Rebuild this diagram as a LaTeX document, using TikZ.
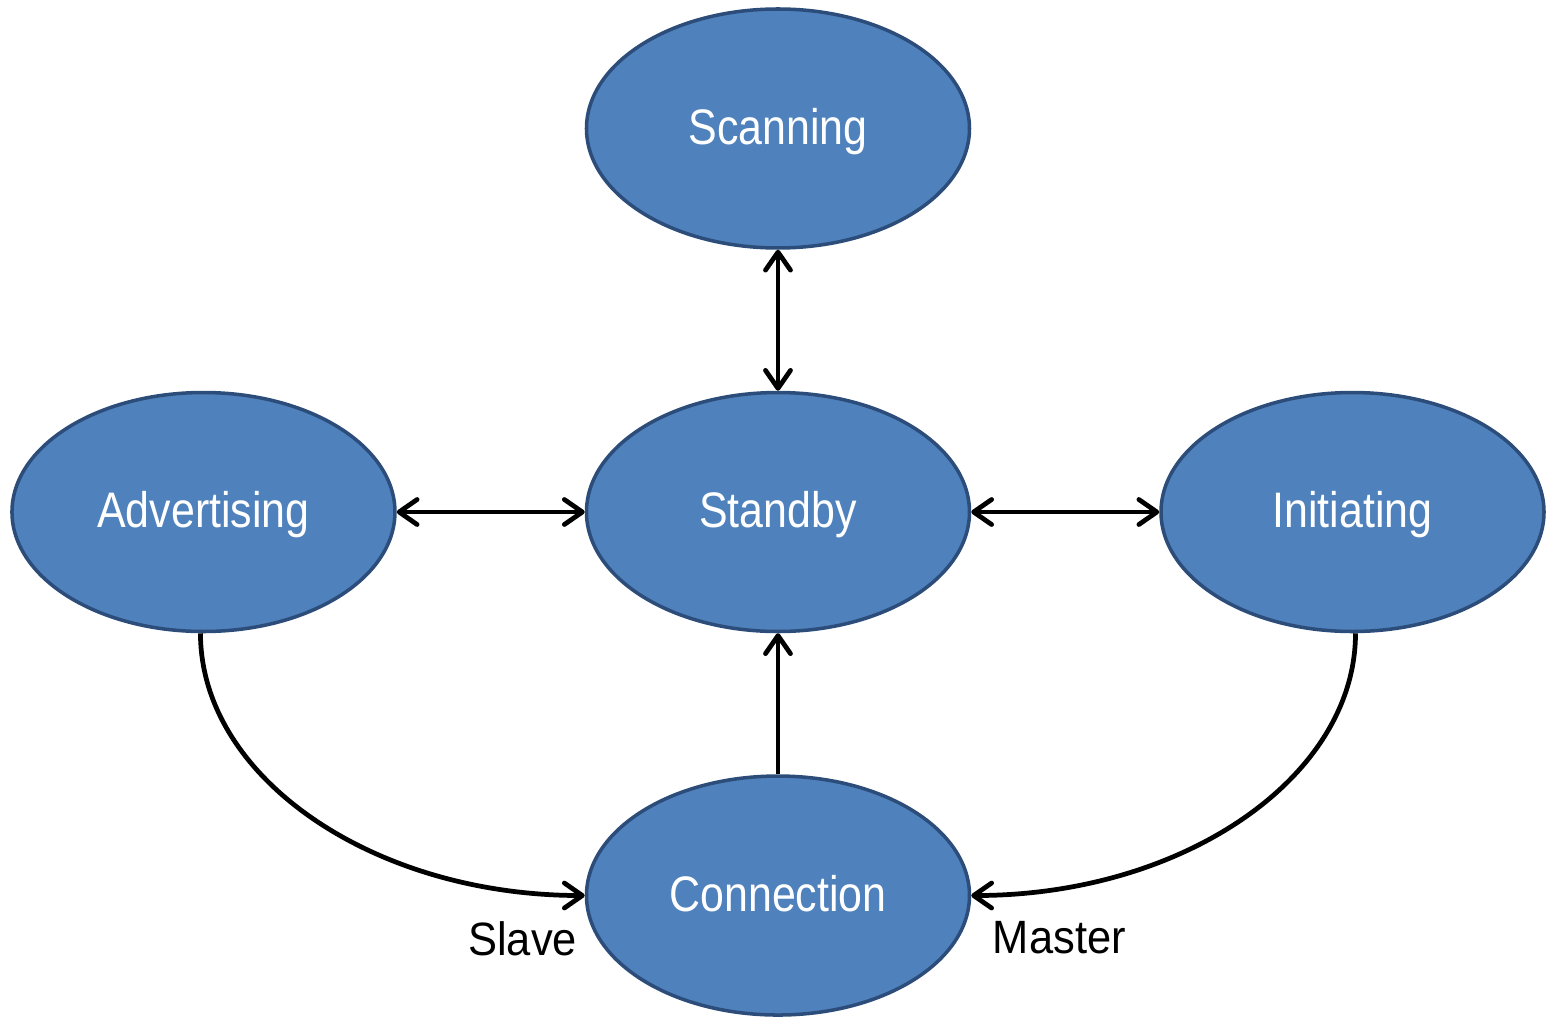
\documentclass[tikz,border=0pt]{standalone}
\usepackage{fontspec}
\setmainfont{Liberation Sans}
\newfontfamily\statefont[FakeStretch=0.86]{Liberation Sans}
\newfontfamily\rolefont[FakeStretch=0.93]{Liberation Sans}
\usetikzlibrary{shapes, arrows.meta, positioning}
\definecolor{statefill}{HTML}{4F81BD}
\definecolor{stateline}{HTML}{2C4D7A}
\tikzstyle{state} = [draw=stateline, fill=statefill, ellipse, line width=1pt, inner sep=0pt, minimum width=3.83cm, minimum height=2.39cm, text=white, text height=0.9em, text depth=0pt, font=\statefont\fontsize{14.2}{17}\selectfont]
\tikzstyle{role} = [inner sep=0pt, font=\rolefont\fontsize{13.3}{16}\selectfont]
\tikzstyle{line} = [draw, line width=1.35pt, -{Straight Barb[length=1.8mm, width=2.5mm, round]}]
\tikzstyle{both} = [draw, line width=1.35pt, {Straight Barb[length=1.8mm, width=2.5mm, round]}-{Straight Barb[length=1.8mm, width=2.5mm, round]}]

\begin{document}
\begin{tikzpicture}
	\useasboundingbox (-7.78,-5.06) rectangle (7.69,5.12);
	\node [state] (standby) {Standby};
	\node [state, above=1.41cm of standby] (scanning) {Scanning};
	\node [state, left=1.88cm of standby] (advertising) {Advertising};
	\node [state, right=1.88cm of standby] (initiating) {Initiating};
	\node [state, below=1.41cm of standby] (connection) {Connection};
	\node [role, below left=0.25cm and 0.07cm of connection.west] (slave) {Slave};
	\node [role, below right=0.25cm and 0.21cm of connection.east] (master) {Master};
	
	\path [both] (scanning) -- (standby);
	\path [both] (advertising) -- (standby);
	\path [both] (standby) -- (initiating);
	\path [line] (connection) -- (standby);
	\path [line] ([xshift=-0.03cm]advertising.south) .. controls +(0,-1.44) and +(-2.12,0) .. (connection.west);
	\path [line] ([xshift=0.03cm]initiating.south) .. controls +(0,-1.44) and +(2.12,0) .. (connection.east);
\end{tikzpicture}
\end{document}
